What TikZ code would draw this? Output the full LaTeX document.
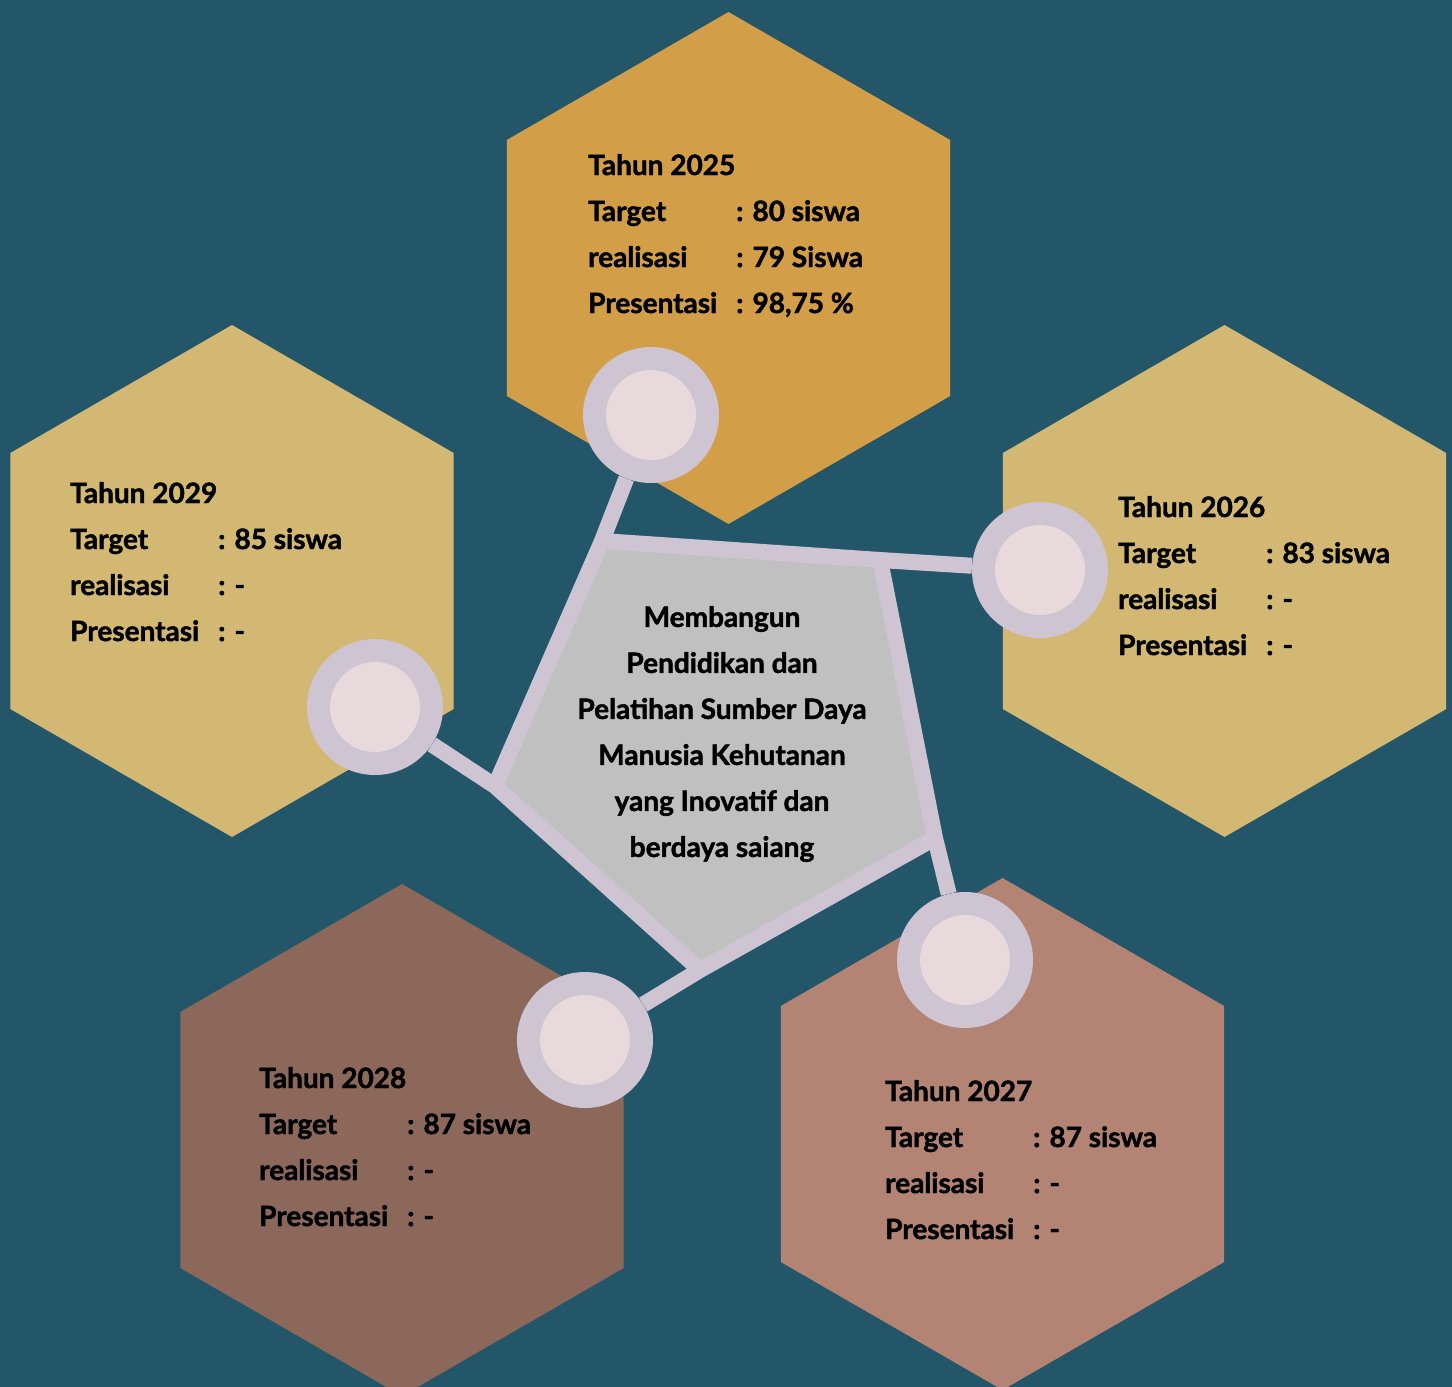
\documentclass[tikz,border=0pt]{standalone}
\usepackage{fontspec}
\setmainfont{Lato}[BoldFeatures={FakeBold=1.6}]
\usepackage{xcolor}

\definecolor{bgteal}{HTML}{24566A}
\definecolor{hexorange}{HTML}{D29E48}
\definecolor{hexkhaki}{HTML}{D2B872}
\definecolor{hexbrown}{HTML}{8B685A}
\definecolor{hexrose}{HTML}{B38373}
\definecolor{coregray}{HTML}{C0C0C0}
\definecolor{linklilac}{HTML}{CEC4D2}
\definecolor{dotpink}{HTML}{E8DADC}

\tikzset{
	link/.style={draw=linklilac, line width=16pt},
	ringdot/.style={circle, fill=linklilac, minimum size=136pt, inner sep=0pt,
		path picture={\fill[dotpink] (path picture bounding box.center) circle[radius=45pt];}},
	yearinfo/.style={anchor=north west, inner sep=0pt, align=left, font=\bfseries\fontsize{28}{46}\selectfont},
	centretext/.style={inner sep=0pt, align=center, font=\bfseries\fontsize{28}{46}\selectfont},
}
\newcommand{\lbl}[1]{\makebox[148pt][l]{#1}}

\begin{document}
\begin{tikzpicture}[x=1pt, y=-1pt]
	\useasboundingbox (0,0) rectangle (1452,1387);
	\clip (0,0) rectangle (1452,1387);
	\fill[bgteal] (0,0) rectangle (1452,1387);

	\foreach \hx/\hy/\hc in {728.5/268/hexorange, 1224.5/581/hexkhaki, 1002.5/1134/hexrose, 402/1140/hexbrown, 232/581/hexkhaki}{
		\fill[\hc] (\hx,\hy) +(90:256) -- +(30:256) -- +(-30:256) -- +(-90:256) -- +(-150:256) -- +(150:256) -- cycle;
	};

	% pentagon in the middle
	\coordinate (pA) at (602,541);
	\coordinate (pB) at (880,560);
	\coordinate (pC) at (935,838);
	\coordinate (pD) at (700,970);
	\coordinate (pE) at (495,786);
	\fill[coregray] (pA) -- (pB) -- (pC) -- (pD) -- (pE) -- cycle;

	\foreach \yr/\cx/\cy in {2025/651/415, 2026/1040/570, 2027/965/960, 2028/585/1040, 2029/375/707}{
		\node[ringdot] (dot\yr) at (\cx,\cy) {};
	};

	\foreach \from/\to/\yr in {pE/pA/2025, pA/pB/2026, pB/pC/2027, pC/pD/2028, pD/pE/2029}{
		\draw[link] (\from) -- (\to) -- (dot\yr);
	};

	\node[yearinfo] (info2025) at (588,154) {Tahun 2025\\ \lbl{Target}: 80 siswa\\ \lbl{realisasi}: 79 Siswa\\ \lbl{Presentasi}: 98,75 \%};
	\node[yearinfo] (info2026) at (1118,496) {Tahun 2026\\ \lbl{Target}: 83 siswa\\ \lbl{realisasi}: -\\ \lbl{Presentasi}: -};
	\node[yearinfo] (info2027) at (885,1080) {Tahun 2027\\ \lbl{Target}: 87 siswa\\ \lbl{realisasi}: -\\ \lbl{Presentasi}: -};
	\node[yearinfo] (info2028) at (259,1067) {Tahun 2028\\ \lbl{Target}: 87 siswa\\ \lbl{realisasi}: -\\ \lbl{Presentasi}: -};
	\node[yearinfo] (info2029) at (70,482) {Tahun 2029\\ \lbl{Target}: 85 siswa\\ \lbl{realisasi}: -\\ \lbl{Presentasi}: -};

	\node[centretext] (misi) at (722,734) {Membangun\\ Pendidikan dan\\ Pelatihan Sumber Daya\\ Manusia Kehutanan\\ yang Inovatif dan\\ berdaya saiang};
\end{tikzpicture}
\end{document}
